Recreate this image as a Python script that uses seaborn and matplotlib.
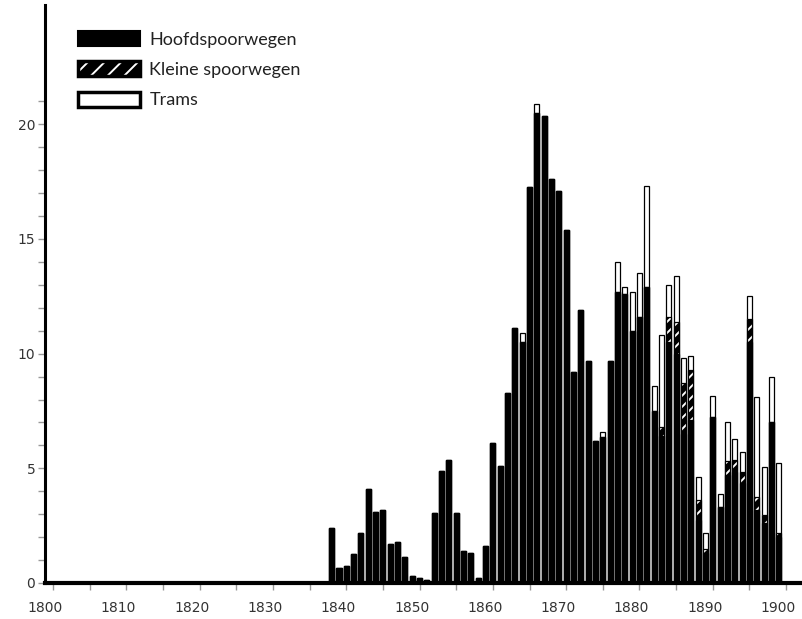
import numpy as np
import pandas as pd
import matplotlib
matplotlib.use("Agg")
import matplotlib.pyplot as plt
import matplotlib.transforms as mtransforms
from matplotlib.patches import Patch
from matplotlib.legend_handler import HandlerTuple
import seaborn as sns

# values, 1838-1899
years = list(range(1838, 1900))
hoofd = [2.4, 0.65, 0.75, 1.25, 2.2, 4.1, 3.1, 3.2, 1.7, 1.8,
         1.15, 0.3, 0.2, 0.15, 3.05, 4.9, 5.35, 3.05, 1.4, 1.3,
         0.2, 1.6, 6.1, 5.1, 8.3, 11.1, 10.5, 17.25, 20.5, 20.35,
         17.6, 17.1, 15.4, 9.2, 11.9, 9.7, 6.2, 6.35, 9.7, 12.7,
         12.6, 11.0, 11.6, 12.9, 7.5, 6.4, 10.5, 10.0, 6.5, 7.1,
         2.75, 1.3, 7.25, 3.3, 4.7, 4.85, 4.35, 10.5, 3.2, 2.6,
         7.0, 2.0]
klein = [0] * 45 + [0.4, 1.1, 1.4, 2.2, 2.2,
         0.85, 0.2, 0, 0, 0.6, 0.5, 0.5, 1.0, 0.55, 0.35,
         0, 0.2]
trams = [0] * 26 + [0.4, 0, 0.4, 0,
         0, 0, 0, 0, 0, 0, 0, 0.25, 0, 1.3,
         0.3, 1.7, 1.9, 4.4, 1.1, 4.0, 1.4, 2.0, 1.1, 0.6,
         1.0, 0.7, 0.9, 0.6, 1.7, 0.95, 0.85, 1.0, 4.35, 2.1,
         2.0, 3.05]

df = pd.DataFrame({"jaar": years, "hoofd": hoofd, "klein": klein, "trams": trams})
df["hk"] = df["hoofd"] + df["klein"]
df["totaal"] = df["hk"] + df["trams"]

sns.set_style("white")
plt.rcParams["hatch.linewidth"] = 1.4

fig = plt.figure(figsize=(8.02, 6.19), dpi=100)
ax = fig.add_axes([45 / 802, 36 / 619, 755 / 802, 578 / 619])

w = 0.7
lw = 0.9
# trams (total) first, then hoofd + klein hatched, then hoofd on top
sns.barplot(data=df, x="jaar", y="totaal", native_scale=True, width=w,
            errorbar=None, color="white", ax=ax)
for p in ax.containers[-1]:
    p.set_facecolor("white")
    p.set_edgecolor("black")
    p.set_linewidth(lw)

sns.barplot(data=df, x="jaar", y="hk", native_scale=True, width=w,
            errorbar=None, color="black", ax=ax)
for p in ax.containers[-1]:
    p.set_facecolor("black")
    p.set_edgecolor("white")
    p.set_hatch("///")
    p.set_linewidth(0)

sns.barplot(data=df, x="jaar", y="hk", native_scale=True, width=w,
            errorbar=None, color="black", ax=ax)
for p in ax.containers[-1]:
    p.set_fill(False)
    p.set_edgecolor("black")
    p.set_linewidth(lw)

sns.barplot(data=df, x="jaar", y="hoofd", native_scale=True, width=w,
            errorbar=None, color="black", ax=ax)
for p in ax.containers[-1]:
    p.set_facecolor("black")
    p.set_edgecolor("black")
    p.set_linewidth(lw)

ax.set_xlim(1798.9, 1901.9)
ax.set_ylim(0, 25.2)
ax.set_xlabel("")
ax.set_ylabel("")

sns.despine(ax=ax)
ax.spines["left"].set_linewidth(2.2)
ax.spines["bottom"].set_linewidth(3)
ax.spines["left"].set_color("black")
ax.spines["bottom"].set_color("black")

ax.set_xticks(range(1800, 1901, 10))
ax.set_xticks(range(1805, 1900, 10), minor=True)
ax.set_xticklabels([str(y) for y in range(1800, 1901, 10)])
ax.set_yticks([0, 5, 10, 15, 20])
ax.set_yticks(range(0, 22), minor=True)
ax.tick_params(axis="x", which="both", direction="out", length=5, width=1,
               color="#999999", pad=8, labelsize=10, labelcolor="#333333")
ax.tick_params(axis="y", which="both", direction="out", length=5, width=1,
               color="#999999", pad=2, labelsize=10, labelcolor="#333333")
ax.tick_params(axis="both", which="both", bottom=True, left=True)

shift = mtransforms.ScaledTranslation(-8 / 100, 0, fig.dpi_scale_trans)
for lab in ax.get_xticklabels():
    lab.set_transform(lab.get_transform() + shift)

h_hoofd = Patch(facecolor="black", edgecolor="black", linewidth=1.5)
h_klein = (Patch(facecolor="black", edgecolor="white", hatch="//", linewidth=0),
           Patch(fill=False, edgecolor="black", linewidth=2.5))
h_trams = Patch(facecolor="white", edgecolor="black", linewidth=2.5)
ax.legend([h_hoofd, h_klein, h_trams],
          ["Hoofdspoorwegen", "Kleine spoorwegen", "Trams"],
          handler_map={tuple: HandlerTuple(ndivide=1)},
          loc="upper left", bbox_to_anchor=(69 / 802, 1 - 22 / 619),
          bbox_transform=fig.transFigure, frameon=False,
          prop={"family": "Lato", "size": 13}, labelcolor="#222222",
          handlelength=3.45, handleheight=0.9, labelspacing=0.75,
          handletextpad=0.5, borderpad=0)

fig.savefig("out.png", dpi=100)
